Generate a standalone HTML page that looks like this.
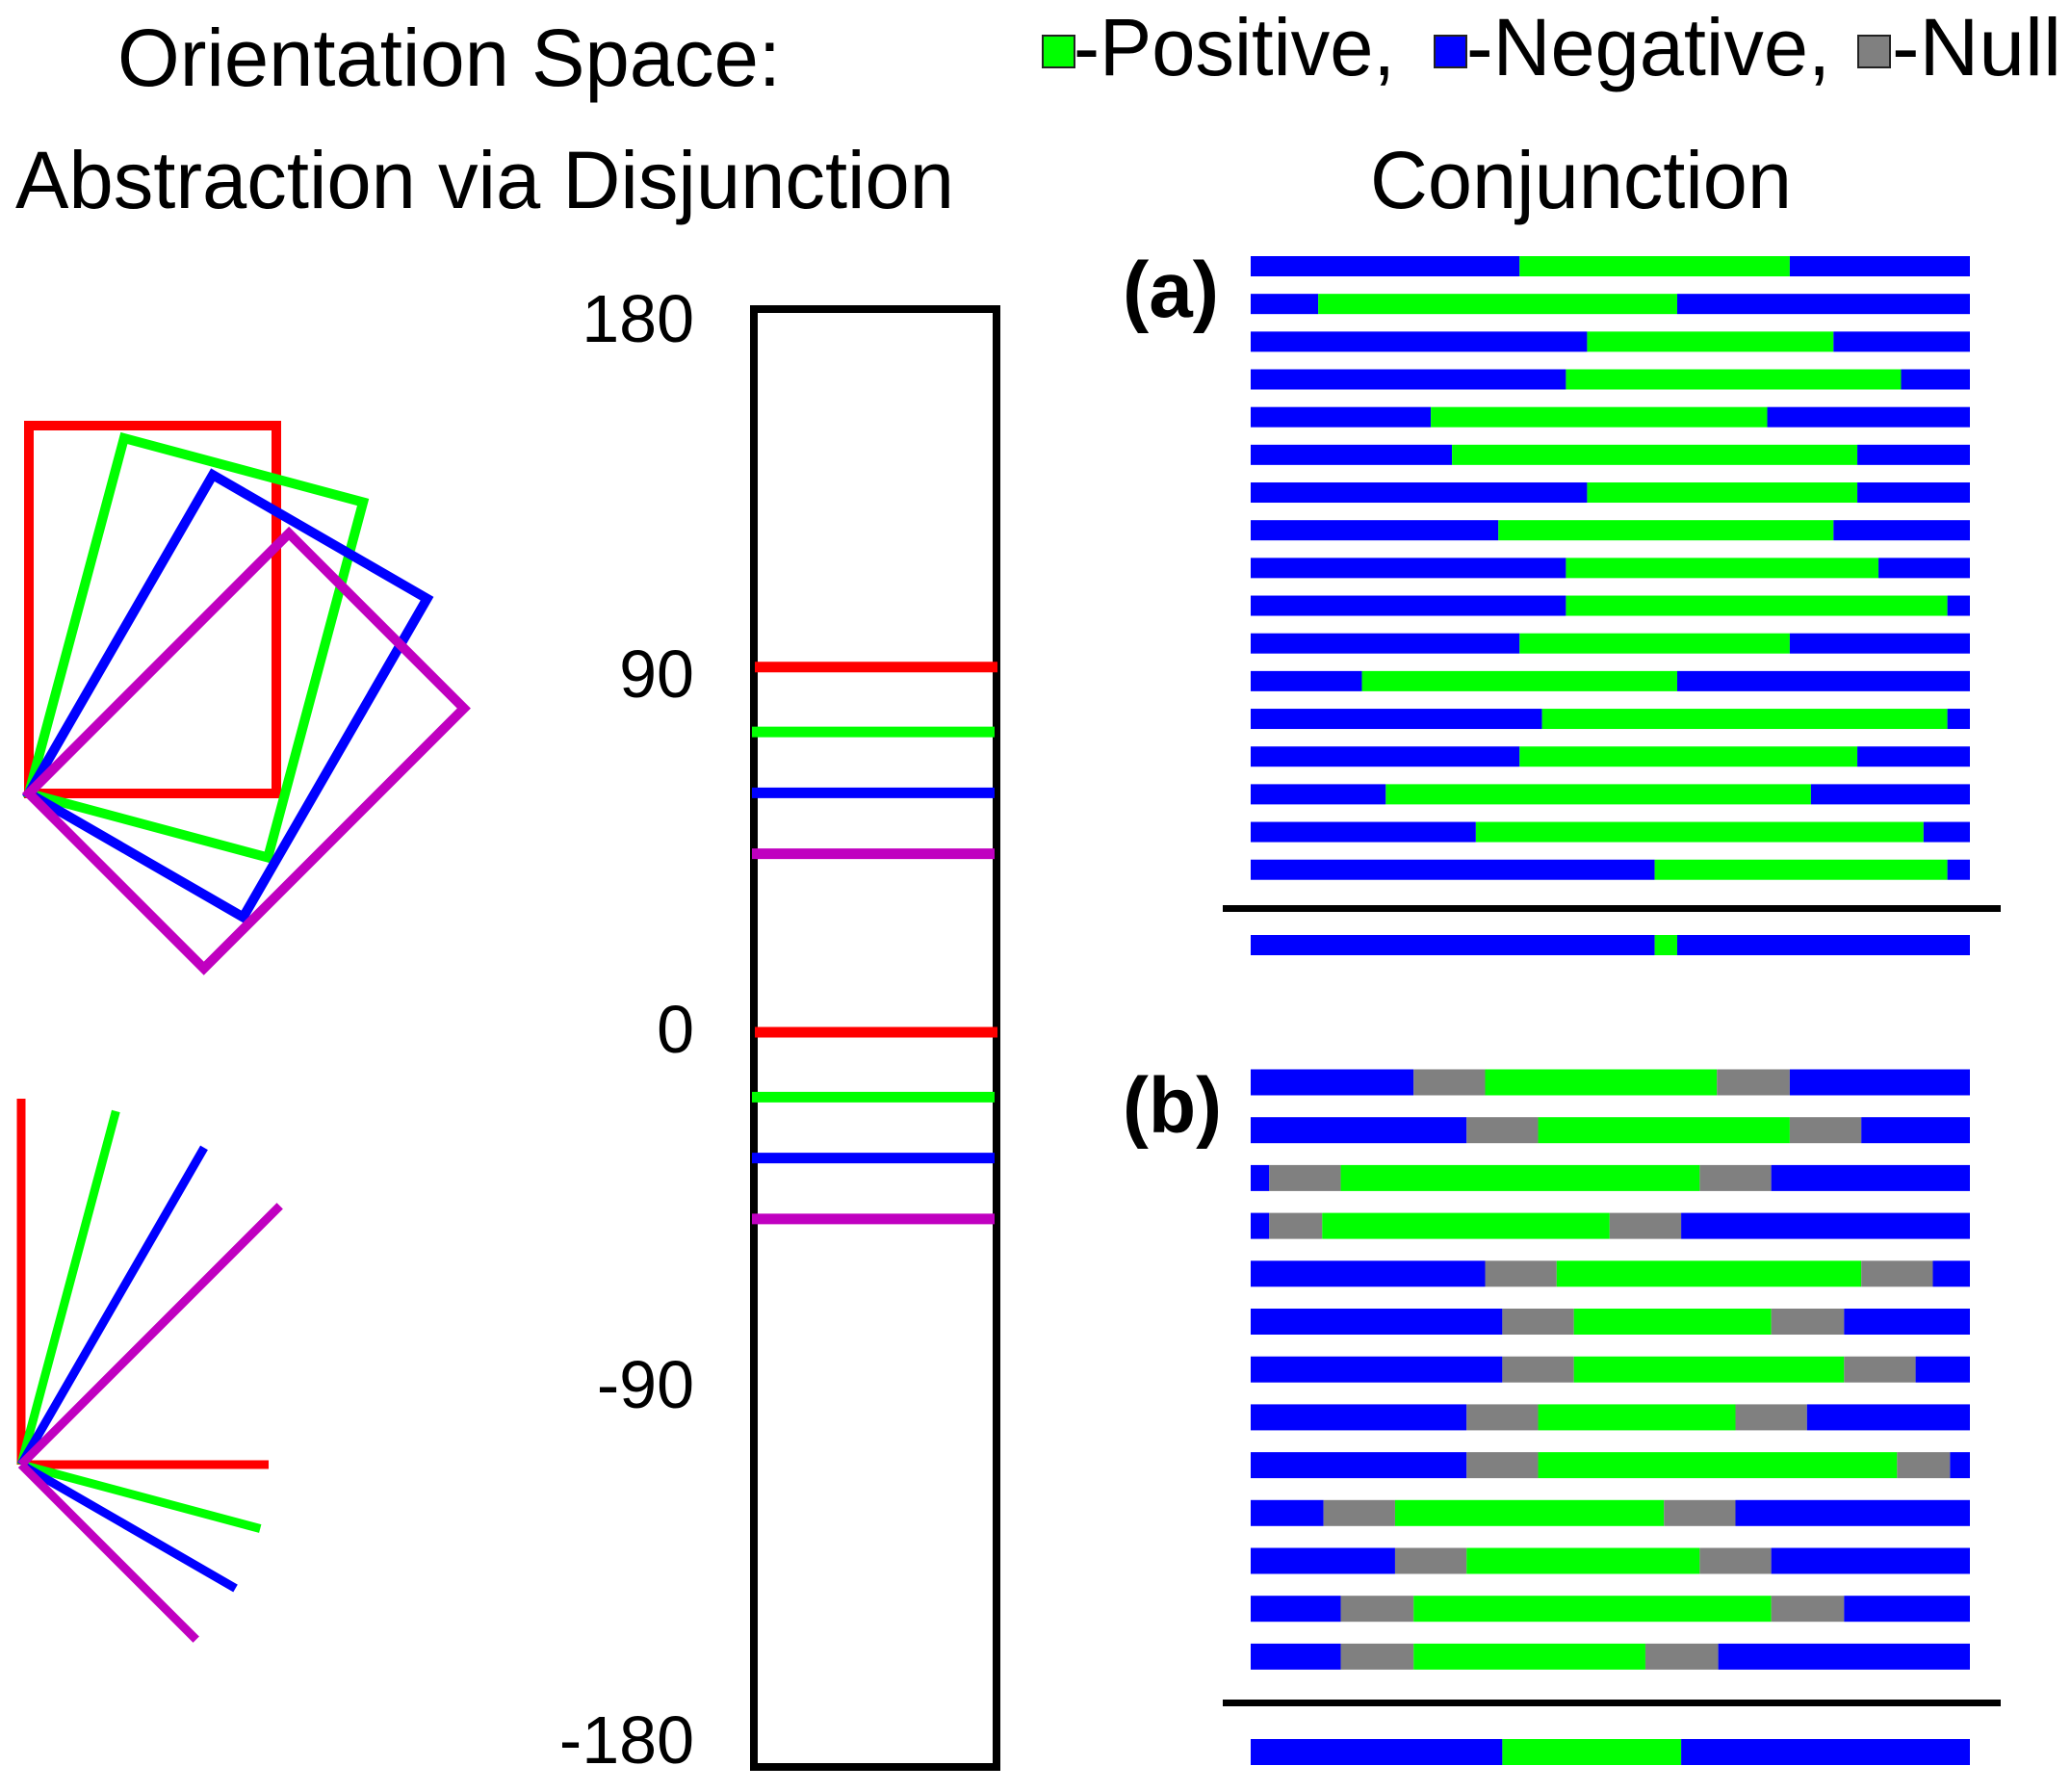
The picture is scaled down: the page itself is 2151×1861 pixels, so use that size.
<!DOCTYPE html>
<html><head><meta charset="utf-8"><style>
html,body{margin:0;padding:0;background:#fff;}
svg{display:block;font-family:"Liberation Sans",sans-serif;}
</style></head><body>
<svg id="fig" width="2151" height="1861" viewBox="0 0 2151 1861" xmlns="http://www.w3.org/2000/svg">
<text x="122" y="89" font-size="84" textLength="689" lengthAdjust="spacingAndGlyphs">Orientation Space:</text>
<text x="16" y="216" font-size="84" textLength="975" lengthAdjust="spacingAndGlyphs">Abstraction via Disjunction</text>
<text x="1423" y="216" font-size="84" textLength="438" lengthAdjust="spacingAndGlyphs">Conjunction</text>
<g>
<rect x="1083" y="37" width="33" height="33" fill="#00ff00" stroke="#222" stroke-width="2"/>
<text x="1115" y="78" font-size="84" textLength="334" lengthAdjust="spacingAndGlyphs">-Positive,</text>
<rect x="1490" y="37" width="33" height="33" fill="#0000ff" stroke="#222" stroke-width="2"/>
<text x="1523" y="78" font-size="84" textLength="378" lengthAdjust="spacingAndGlyphs">-Negative,</text>
<rect x="1930" y="37" width="33" height="33" fill="#808080" stroke="#222" stroke-width="2"/>
<text x="1965" y="78" font-size="84" textLength="176" lengthAdjust="spacingAndGlyphs">-Null</text>
</g>
<text x="1166" y="329" font-size="82" font-weight="bold" textLength="100" lengthAdjust="spacingAndGlyphs">(a)</text>
<text x="1166" y="1176" font-size="82" font-weight="bold" textLength="103" lengthAdjust="spacingAndGlyphs">(b)</text>
<rect x="787" y="321" width="252" height="1514" fill="none" stroke="#000" stroke-width="8" transform="translate(-4,0)"/>
<g id="rects"></g><g id="rays"></g><g id="ticks"></g><g id="marks" transform="translate(-4,0)"></g><g id="barsA"></g><g id="barsB"></g>
<rect x="1270" y="940" width="808" height="7" fill="#000"/>
<rect x="1270" y="1765" width="808" height="7" fill="#000"/>
</svg>
<script>
const NS="http://www.w3.org/2000/svg";
// orientation data
const angles=[0,15,30,45];
const colors=["#ff0000","#00ff00","#0000ff","#c000c0"];
const upperMarks=[90,74,59,44];
const lowerMarks=[0,-16,-31,-46];
const tickValues=[180,90,0,-90,-180];
const tickLabels=["180","90","0","-90","-180"];
// conjunction (a): [greenStart, greenEnd] on 0..543 scale
const rowsA=[[203,407],[51,322],[254,440],[238,491],[136,390],[152,458],[254,458],[187,440],[238,474],[238,526],[203,407],[84,322],[220,526],[203,458],[102,423],[170,508],[305,526]];
const resultA=[305,322];
// conjunction (b): [negEnd, nullEnd, posEnd, nullEnd2]
const rowsB=[[123,177,352,407],[163,217,407,461],[14,68,339,393],[14,54,271,325],[177,231,461,515],[190,244,393,448],[190,244,448,502],[163,217,366,420],[163,217,488,528],[55,109,312,366],[109,163,339,393],[68,123,393,448],[68,123,298,353]];
const resultB=[190,325];

function el(tag,attrs,parent){const e=document.createElementNS(NS,tag);for(const k in attrs)e.setAttribute(k,attrs[k]);parent.appendChild(e);return e;}
const yMark=v=>1072-v*4.214;
const yLabel=v=>1093-v*4.1;
const xBar=v=>1299+v*(2046-1299)/543;

const gR=document.getElementById('rects');
angles.forEach((a,i)=>{
  const r=el('rect',{x:30,y:442,width:257,height:382,fill:'none',stroke:colors[i],'stroke-width':10,transform:`rotate(${a} 30 824)`},gR);
  
  
});
const gY=document.getElementById('rays');
angles.forEach((a,i)=>{
  const t=a*Math.PI/180,px=22,py=1521;
  const l1=el('line',{x1:px,y1:py,x2:px+380*Math.sin(t),y2:py-380*Math.cos(t),stroke:colors[i],'stroke-width':9},gY);
  
  
  const l2=el('line',{x1:px,y1:py,x2:px+257*Math.cos(t),y2:py+257*Math.sin(t),stroke:colors[i],'stroke-width':9},gY);
  
  
});
const gT=document.getElementById('ticks');
tickValues.forEach((v,i)=>{
  const t=el('text',{x:721,y:yLabel(v),'font-size':70,'text-anchor':'end'},gT);
  t.textContent=tickLabels[i];
  
  
});
const gM=document.getElementById('marks');
[upperMarks,lowerMarks].forEach((arr,k)=>arr.forEach((v,i)=>{
  const l=el('line',{x1:i===0?788:785,x2:i===0?1040:1037,y1:yMark(v),y2:yMark(v),stroke:colors[i],'stroke-width':11},gM);
  
  
}));
function seg(g,x0,x1,y,h,c,name){
  const r=el('rect',{x:xBar(x0),y:y,width:xBar(x1)-xBar(x0),height:h,fill:c},g);
  
  
}
const gA=document.getElementById('barsA');
function rowA(r,y,name){
  seg(gA,0,r[0],y,21,'#0000ff',name+'-negative-left');
  seg(gA,r[0],r[1],y,21,'#00ff00',name+'-positive');
  seg(gA,r[1],543,y,21,'#0000ff',name+'-negative-right');
}
rowsA.forEach((r,i)=>rowA(r,266+i*39.17,'bar-a-row-'+(i+1)));
rowA(resultA,971,'bar-a-result');
const gB=document.getElementById('barsB');
rowsB.forEach((r,i)=>{
  const y=1110.5+i*49.7,n='bar-b-row-'+(i+1);
  seg(gB,0,r[0],y,27,'#0000ff',n+'-negative-left');
  seg(gB,r[0],r[1],y,27,'#808080',n+'-null-left');
  seg(gB,r[1],r[2],y,27,'#00ff00',n+'-positive');
  seg(gB,r[2],r[3],y,27,'#808080',n+'-null-right');
  seg(gB,r[3],543,y,27,'#0000ff',n+'-negative-right');
});
seg(gB,0,resultB[0],1806,27,'#0000ff','bar-b-result-negative-left');
seg(gB,resultB[0],resultB[1],1806,27,'#00ff00','bar-b-result-positive');
seg(gB,resultB[1],543,1806,27,'#0000ff','bar-b-result-negative-right');
</script>
</body></html>
